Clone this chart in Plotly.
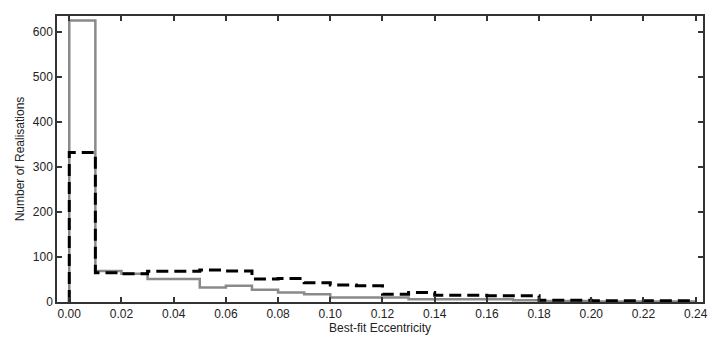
import plotly.graph_objects as go

bin_edges = [round(0.01 * i, 2) for i in range(25)]
counts_solid = [625, 69, 63, 51, 51, 32, 36, 27, 21, 17, 10, 10, 10, 6, 6, 6, 6, 4, 2, 2, 1, 1, 1, 1]
counts_dashed = [332, 65, 63, 68, 68, 71, 69, 51, 52, 43, 38, 36, 17, 21, 15, 15, 14, 14, 4, 4, 3, 3, 3, 3]
x_ticks = [round(0.02 * i, 2) for i in range(13)]
y_ticks = [0, 100, 200, 300, 400, 500, 600]


def step_xy(edges, counts):
    xs = [edges[0]] + list(edges)
    ys = [0] + list(counts) + [counts[-1]]
    return xs, ys


fig = go.Figure()
xs, ys = step_xy(bin_edges, counts_solid)
fig.add_trace(go.Scatter(x=xs, y=ys, mode="lines", line_shape="hv",
                         line=dict(color="#8a8a8a", width=2.5), showlegend=False))
xs, ys = step_xy(bin_edges, counts_dashed)
fig.add_trace(go.Scatter(x=xs, y=ys, mode="lines", line_shape="hv",
                         line=dict(color="black", width=3, dash="12px,6px"), showlegend=False))

axis_common = dict(showgrid=False, zeroline=False, showline=True, linecolor="#333",
                   linewidth=1.5, mirror="ticks", ticks="inside", ticklen=5,
                   tickcolor="#333", tickwidth=1.5,
                   tickfont=dict(family="Liberation Sans, Arial", size=12, color="#222"))

fig.update_layout(
    width=718, height=342,
    margin=dict(l=57, r=10, t=16, b=39),
    paper_bgcolor="white", plot_bgcolor="white",
    xaxis=dict(range=[-0.0047, 0.2428], tickvals=x_ticks,
               ticktext=[f"{v:.2f}" for v in x_ticks],
               title=dict(text="Best-fit Eccentricity", standoff=2,
                          font=dict(family="Liberation Sans, Arial", size=12, color="#222")),
               **axis_common),
    yaxis=dict(range=[0, 635], tickvals=y_ticks,
               title=dict(text="Number of Realisations", standoff=6,
                          font=dict(family="Liberation Sans, Arial", size=12, color="#222")),
               **axis_common),
)

fig.write_html("out.html")
